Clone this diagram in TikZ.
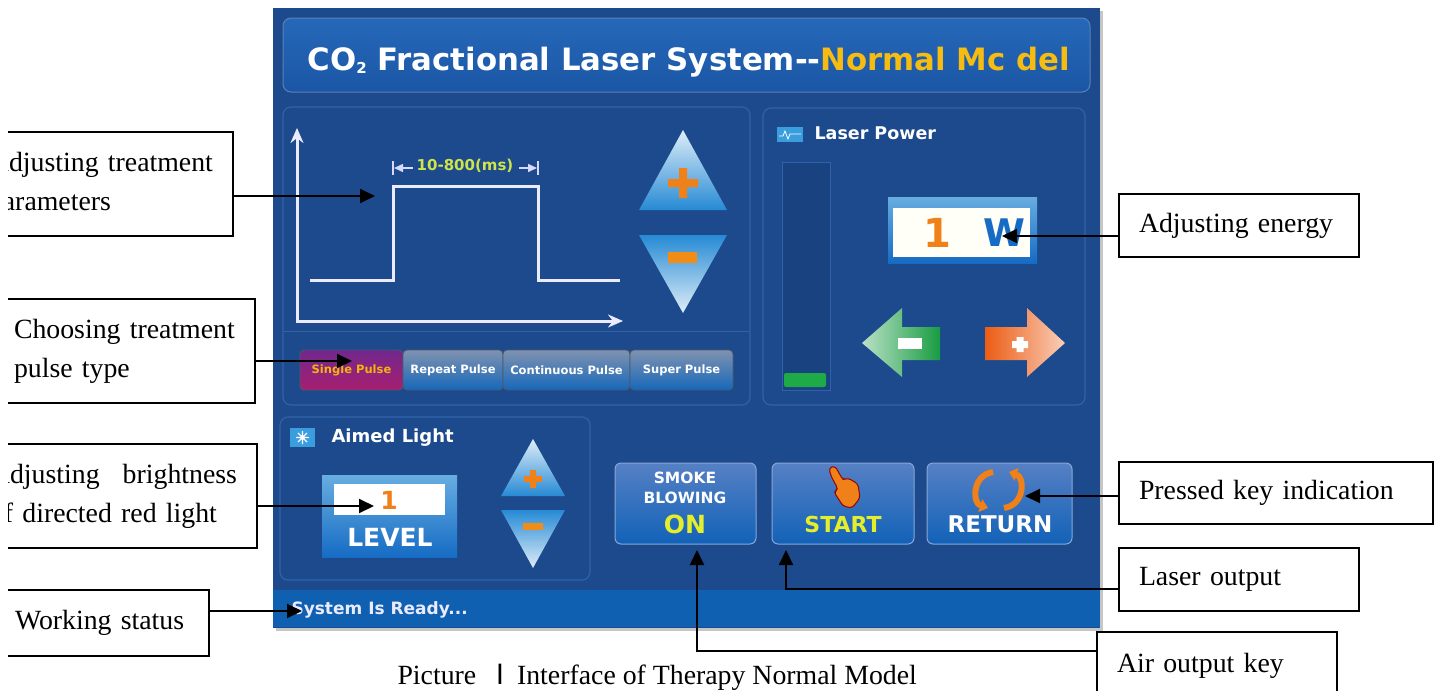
\documentclass[tikz,border=0pt]{standalone}
\usepackage{fontspec}
\setmainfont{Liberation Serif}
\newfontfamily\uifont{DejaVu Sans}
\newfontfamily\cjk{Noto Sans CJK SC}
\usetikzlibrary{arrows.meta}
\definecolor{scr_blue}{RGB}{28,74,140}
\definecolor{panel_line}{RGB}{48,98,168}
\definecolor{title_top}{RGB}{38,104,184}
\definecolor{title_bot}{RGB}{27,86,166}
\definecolor{status_blue}{RGB}{16,96,178}
\definecolor{btn_top}{RGB}{86,128,196}
\definecolor{btn_bot}{RGB}{18,98,184}
\definecolor{tri_blue}{RGB}{38,138,212}
\definecolor{tab_top}{RGB}{128,146,176}
\definecolor{tab_bot}{RGB}{22,104,186}
\definecolor{sel_top}{RGB}{112,40,140}
\definecolor{sel_bot}{RGB}{168,30,112}
\definecolor{ui_orange}{RGB}{240,128,24}
\definecolor{ui_yellow}{RGB}{228,238,44}
\definecolor{title_yellow}{RGB}{246,188,18}
\definecolor{dim_green}{RGB}{206,228,74}
\definecolor{led_green}{RGB}{30,170,70}
\definecolor{arr_green}{RGB}{24,156,66}
\definecolor{arr_orange}{RGB}{236,92,20}
\definecolor{icon_blue}{RGB}{58,158,222}
\definecolor{w_blue}{RGB}{22,108,196}
\definecolor{bar_bg}{RGB}{24,66,128}
\newcommand{\uisz}[1]{\uifont\bfseries\fontsize{#1}{#1}\selectfont}
\newcommand{\callfont}{\fontsize{27.8}{39}\selectfont}
\tikzstyle{callout}=[rectangle,draw=black,line width=1.5pt,inner xsep=20pt,
  inner ysep=0pt,align=left,font=\callfont]
\tikzstyle{conn}=[line width=2pt,-{Triangle[length=15pt,width=14pt]}]
\tikzstyle{panel}=[draw=panel_line,line width=1.2pt,rounded corners=8pt]
\tikzstyle{uibtn}=[rectangle,rounded corners=6pt,draw=btn_top!70!white,
  line width=1pt,top color=btn_top,bottom color=btn_bot,minimum height=81pt]
\tikzstyle{tab}=[rectangle,rounded corners=4pt,draw=tab_top!60!black,line width=0.8pt,
  top color=tab_top,bottom color=tab_bot,minimum height=40pt,inner sep=0pt,
  text=white,font=\uisz{11.5}]
\tikzstyle{wave}=[line width=3pt,draw=white!92!blue]
\begin{document}
\begin{tikzpicture}[x=1pt,y=-1pt]
    \useasboundingbox (0,0) rectangle (1441,691);
    \fill[gray!45] (276,11) rectangle (1103,631);
    \fill[scr_blue] (273,8) rectangle (1100,628);
    \draw[rounded corners=8pt,draw=panel_line!80!white,line width=1pt,
      top color=title_top,bottom color=title_bot] (283,18) rectangle (1090,92);
    \node[anchor=west,text=white,font=\uisz{30.8}] (title) at (304,62)
      {CO{\uisz{15}\raisebox{-3pt}{2}} Fractional Laser System--\textcolor{title_yellow}{Normal Mc del}};
    \draw[style=panel] (283,107) rectangle (750,405);
    \draw[panel_line,line width=1pt] (284,331) -- (749,331);
    \draw[style=panel] (763,108) rectangle (1085,405);
    \draw[style=panel] (280,417) rectangle (590,580);
    \fill[status_blue] (273,590) rectangle (1100,627);
    \draw[style=wave,{Stealth[length=15pt,width=13pt]}-{Stealth[length=15pt,width=13pt]}]
      (297,128) -- (297,321) -- (623,321);
    \draw[style=wave] (310,280) -- (393,280) -- (393,186) -- (538,186) -- (538,280) -- (620,280);
    \draw[white!85!blue,line width=1.5pt] (393,161) -- (393,175) (538,161) -- (538,175);
    \draw[white!85!blue,line width=1.5pt,-{Triangle[length=9pt,width=8pt]}] (413,168) -- (394,168);
    \draw[white!85!blue,line width=1.5pt,-{Triangle[length=9pt,width=8pt]}] (519,168) -- (537,168);
    \node[text=dim_green,font=\uisz{15}] (dur) at (465,166) {10-800(ms)};
    \shade[top color=white!85!tri_blue,bottom color=tri_blue] (683,130) -- (727,210) -- (639,210) -- cycle;
    \fill[ui_orange] (668,179) rectangle (698,187) (679,168) rectangle (687,198);
    \shade[top color=tri_blue,bottom color=white!85!tri_blue] (639,235) -- (727,235) -- (683,313) -- cycle;
    \fill[ui_orange!90!yellow] (668,252) rectangle (697,263);
    \node[style=tab,minimum width=103pt,top color=sel_top,bottom color=sel_bot,
      text=ui_orange!60!yellow] (single) at (351.5,370) {Single Pulse};
    \node[style=tab,minimum width=100pt] (repeat) at (453,370) {Repeat Pulse};
    \node[style=tab,minimum width=127pt] (cont) at (566.5,370) {Continuous Pulse};
    \node[style=tab,minimum width=103pt] (super) at (681.5,370) {Super Pulse};
    \fill[icon_blue] (777,127) rectangle (803,142);
    \draw[white,line width=0.8pt] (779,136) -- (783,136) -- (785,131) -- (788,139) -- (790,134) -- (801,134);
    \node[anchor=west,text=white,font=\uisz{17.5}] (lptxt) at (811,133) {Laser Power};
    \draw[draw=panel_line,fill=bar_bg,line width=1pt] (782,162) rectangle (830,390);
    \fill[led_green,rounded corners=2pt] (784,373) rectangle (826,387);
    \shade[top color=white!30!tri_blue,bottom color=w_blue] (888,197) rectangle (1037,263);
    \fill[white!97!yellow] (893,208) rectangle (1030,257);
    \node[text=ui_orange,font=\uisz{40}] (pval) at (937,233) {1};
    \node[text=w_blue,font=\uisz{38}] (punit) at (1004,233) {W};
    \shade[left color=white!70!arr_green,right color=arr_green] (862,343) -- (902,308) -- (902,327)
      -- (940,327) -- (940,360) -- (902,360) -- (902,377) -- cycle;
    \fill[white] (898,338) rectangle (922,349);
    \shade[left color=arr_orange,right color=white!70!arr_orange] (985,327) -- (1027,327) -- (1027,308)
      -- (1065,343) -- (1027,377) -- (1027,360) -- (985,360) -- cycle;
    \fill[white] (1012,341) rectangle (1028,348) (1016.5,337) rectangle (1023.5,352);
    \fill[icon_blue] (290,428) rectangle (315,447);
    \draw[white,line width=1.2pt] (296,437.5) -- (309,437.5) (302.5,431) -- (302.5,444)
      (298,433) -- (307,442) (298,442) -- (307,433);
    \node[anchor=west,text=white,font=\uisz{18}] (aimtxt) at (328,438) {Aimed Light};
    \shade[top color=white!30!tri_blue,bottom color=w_blue] (322,475) rectangle (457,557);
    \fill[white] (334,484) rectangle (445,515);
    \node[text=ui_orange,font=\uisz{25}] (lval) at (389,500) {1};
    \node[text=white,font=\uisz{25}] (ltxt) at (390,537) {LEVEL};
    \shade[top color=white!85!tri_blue,bottom color=tri_blue] (533,439) -- (565,496) -- (501,496) -- cycle;
    \fill[ui_orange] (524,476) rectangle (542,482) (530,470) rectangle (536,488);
    \shade[top color=tri_blue,bottom color=white!85!tri_blue] (501,510) -- (565,510) -- (533,568) -- cycle;
    \fill[ui_orange!90!yellow] (523,523) rectangle (543,530);
    \node[style=uibtn,minimum width=141pt] (smoke) at (685.5,503.5) {};
    \node[style=uibtn,minimum width=142pt] (start) at (843,503.5) {};
    \node[style=uibtn,minimum width=145pt] (return) at (999.5,503.5) {};
    \node[text=white,font=\uisz{15.5}] (smk1) at (685,478) {SMOKE};
    \node[text=white,font=\uisz{15.5}] (smk2) at (685,498) {BLOWING};
    \node[text=ui_yellow,font=\uisz{25}] (smk3) at (685,524) {ON};
    \node[text=ui_yellow,font=\uisz{22}] (sttxt) at (843,524) {START};
    \node[text=white,font=\uisz{23}] (rttxt) at (1000,524) {RETURN};
    \draw[draw=red!60!black,line width=1pt,fill=ui_orange,rounded corners=3pt] (829,468) -- (835,466)
      -- (843,480) -- (848,478) -- (853,481) -- (858,484) -- (860,498) -- (852,508) -- (843,506)
      -- (834,492) -- (838,489) -- (831,476) -- cycle;
    \draw[ui_orange,line width=6pt,-{Triangle[length=8pt,width=13pt]}] (993,472) .. controls (972,475) and (972,503) .. (988,508);
    \draw[ui_orange,line width=6pt,-{Triangle[length=8pt,width=13pt]}] (1004,508) .. controls (1025,505) and (1025,477) .. (1009,472);
    \node[anchor=west,text=white!92!blue,font=\uisz{17}] (stat) at (288,610) {System Is Ready...};
    \begin{scope}
      \clip (8,0) rectangle (300,691);
      \node [style=callout,text width=224pt,minimum height=104pt] (params) at (101,184) {Adjusting treatment\\parameters};
      \node [style=callout,text width=221pt,minimum height=104pt] (pulsetype) at (124.5,351) {Choosing treatment\\pulse type};
      \node [style=callout,text width=247pt,minimum height=104pt] (brightness) at (113.5,496) {Adjusting\hfill brightness\\of directed red light};
      \node [style=callout,text width=174pt,minimum height=66pt] (status) at (102,623) {Working status};
    \end{scope}
    \node [style=callout,text width=200pt,minimum height=63pt] (energy) at (1239,225.5) {Adjusting energy};
    \node [style=callout,text width=274pt,minimum height=62pt] (pressed) at (1276,493) {Pressed key indication};
    \node [style=callout,text width=200pt,minimum height=63pt] (laserout) at (1239,579.5) {Laser output};
    \node [style=callout,text width=200pt,minimum height=68pt] (airkey) at (1217,666) {Air output key};
    \node [anchor=base west,font=\callfont] (caption) at (394,684) {Picture\hspace{10pt}{\cjk Ⅰ}\hspace{3pt}Interface of Therapy Normal Model};
    \coordinate (ptip) at (375,196);
    \coordinate (ttip) at (352,361);
    \coordinate (ltip) at (374,506);
    \coordinate (stip) at (302,611);
    \coordinate (wtip) at (1002,236);
    \coordinate (rtip) at (1025,496);
    \coordinate (lbend) at (786,589);
    \coordinate (sttip) at (786,550);
    \coordinate (abend) at (697,651);
    \coordinate (ontip) at (697,550);
    \draw [style=conn] (params.east |- ptip) to (ptip);
    \draw [style=conn] (pulsetype.east |- ttip) to (ttip);
    \draw [style=conn] (brightness.east |- ltip) to (ltip);
    \draw [style=conn] (status.east |- stip) to (stip);
    \draw [style=conn] (energy.west |- wtip) to (wtip);
    \draw [style=conn] (pressed.west |- rtip) to (rtip);
    \draw [style=conn] (laserout.west |- lbend) -- (lbend) -- (sttip);
    \draw [style=conn] (airkey.west |- abend) -- (abend) -- (ontip);
\end{tikzpicture}
\end{document}
